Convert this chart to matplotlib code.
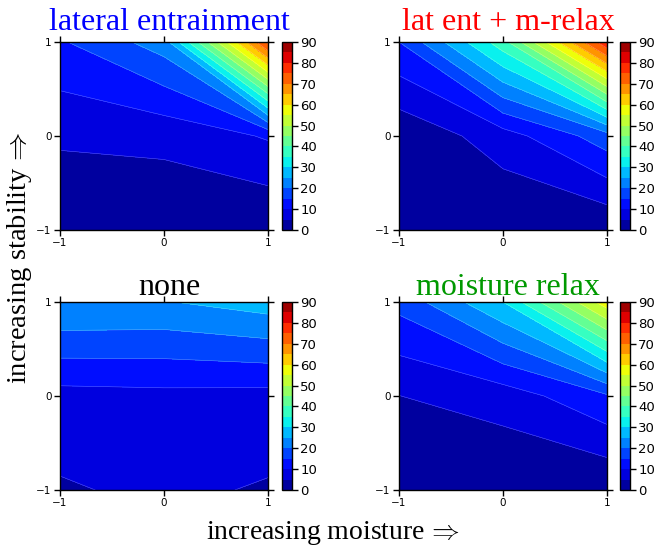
import numpy as np
import matplotlib
matplotlib.use("Agg")
import matplotlib.pyplot as plt

plt.rcParams["mathtext.fontset"] = "cm"

# grid coordinates (moisture on x, stability on y)
moisture = [-1, 0, 1]
stability = [-1, 0, 1]

# values on the 3x3 grid, rows = stability (-1, 0, 1), cols = moisture (-1, 0, 1)
lateral_entrainment = [
    [0.0, 0.5, 0.1],
    [5.9, 6.5, 10.5],
    [14.4, 22.5, 76.0],
]
lat_ent_m_relax = [
    [0.0, 0.14, 0.3],
    [1.0, 7.6, 17.8],
    [15.0, 38.0, 79.0],
]
none_case = [
    [4.45, 6.07, 4.5],
    [8.15, 8.6, 8.3],
    [25.15, 24.7, 27.5],
]
moisture_relax = [
    [0.5, 0.3, 0.1],
    [4.95, 7.2, 14.3],
    [16.6, 30.0, 58.0],
]

titles = ["lateral entrainment", "lat ent + m-relax", "none", "moisture relax"]
title_colors = ["#0000ff", "#ff0000", "#000000", "#009900"]
panels = [lateral_entrainment, lat_ent_m_relax, none_case, moisture_relax]

levels = np.arange(0, 95, 5)
cbar_ticks = np.arange(0, 100, 10)
axis_ticks = [-1, 0, 1]

serif = ["Liberation Serif", "DejaVu Serif"]

W, H = 657, 549
fig = plt.figure(figsize=(W / 100, H / 100), dpi=100)

def fr(x0, y0, x1, y1):
    return [x0 / W, 1 - y1 / H, (x1 - x0) / W, (y1 - y0) / H]

ax_boxes = [(60, 42, 268, 230), (399, 42, 607, 230),
            (60, 302, 268, 490), (399, 302, 607, 490)]
cb_boxes = [(282, 42, 292, 230), (620, 42, 630, 230),
            (282, 302, 292, 490), (620, 302, 630, 490)]

X, Y = np.meshgrid(moisture, stability)

for i in range(4):
    ax = fig.add_axes(fr(*ax_boxes[i]))
    Z = np.array(panels[i])
    cf = ax.contourf(X, Y, Z, levels=levels, cmap="jet")
    ax.contour(X, Y, Z, levels=levels, colors="white", linewidths=0.4, alpha=0.35)
    ax.set_xlim(-1, 1)
    ax.set_ylim(-1, 1)
    ax.set_xticks(axis_ticks)
    ax.set_yticks(axis_ticks)
    ax.tick_params(direction="out", length=4, width=1, labelsize=7.5,
                   top=True, right=True, pad=2)
    for s in ax.spines.values():
        s.set_linewidth(1)
    pad = 9 if i < 2 else 5
    t = ax.set_title(titles[i], color=title_colors[i], family=serif, fontsize=23, pad=pad)
    t.set_x(0.5 + 5 / 208)

    cax = fig.add_axes(fr(*cb_boxes[i]))
    cb = fig.colorbar(cf, cax=cax, ticks=cbar_ticks)
    cb.ax.tick_params(direction="out", length=4, width=1, labelsize=9.5, pad=2)
    cb.outline.set_linewidth(1)

fig.text(20 / W, 1 - 258 / H, "increasing stability\u200a${\\Rightarrow}$", rotation=90,
         ha="center", va="center", family=serif, fontsize=20.5)
fig.text(333 / W, 1 - 533 / H, "increasing moisture\u200a${\\Rightarrow}$",
         ha="center", va="center", family=serif, fontsize=20)

fig.savefig("out.png", dpi=100)
